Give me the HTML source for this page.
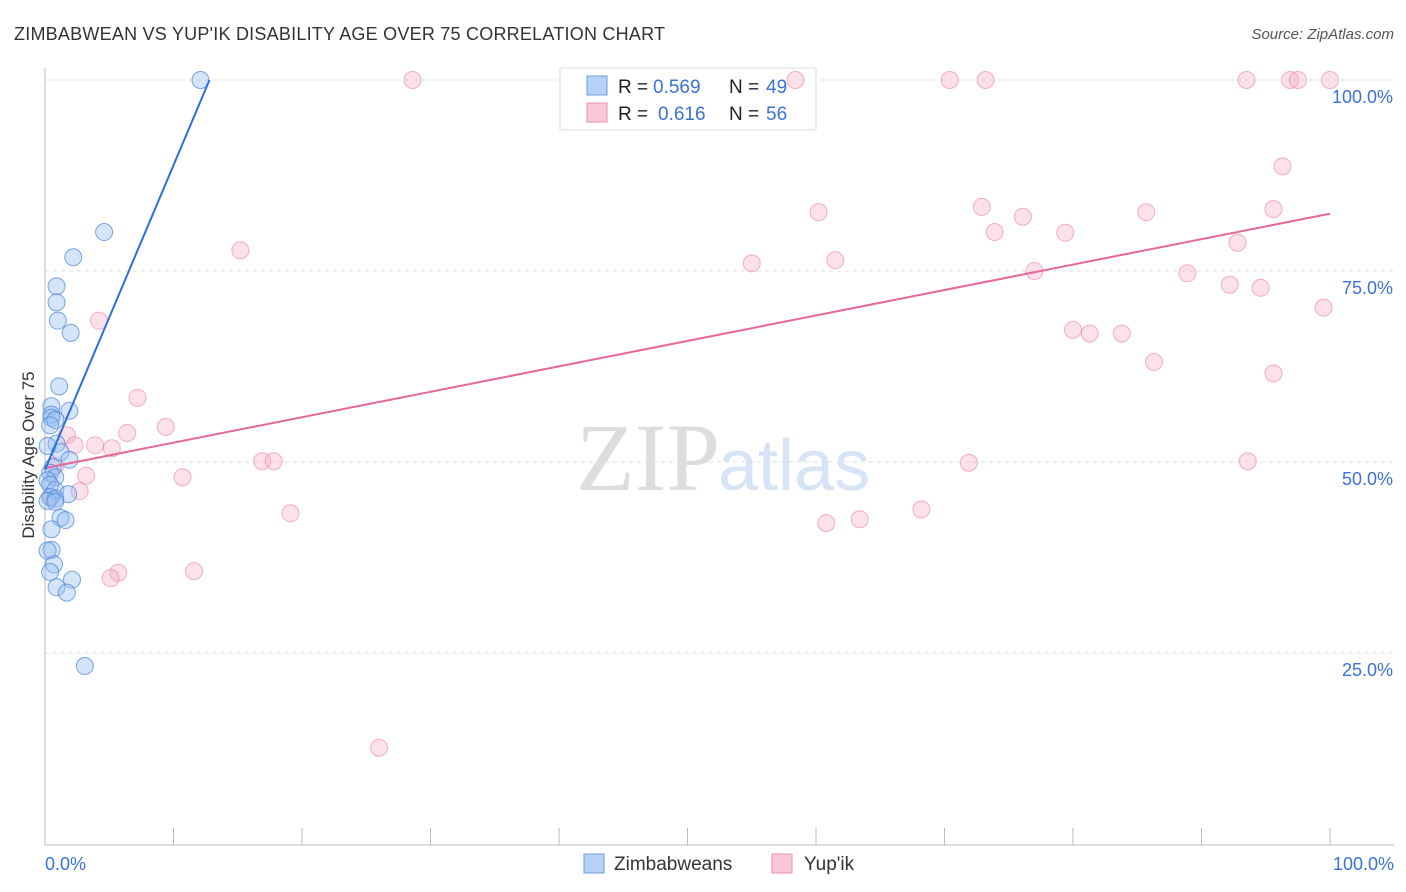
<!DOCTYPE html>
<html><head><meta charset="utf-8"><style>
body{margin:0;background:#fff;font-family:"Liberation Sans",sans-serif}
svg{display:block}
</style></head><body>
<svg id="c" width="1406" height="892">
<text x="14" y="40" font-size="18" fill="#333" textLength="651">ZIMBABWEAN VS YUP'IK DISABILITY AGE OVER 75 CORRELATION CHART</text>
<text x="1394" y="39" font-size="15" fill="#555" font-style="italic" text-anchor="end">Source: ZipAtlas.com</text>
<text x="720" y="490" font-size="96" fill="#ddd" text-anchor="end" font-family="Liberation Serif">ZIP</text>
<text x="718" y="490" font-size="72" fill="#d6e4f5">atlas</text>
<text x="34" y="455" font-size="17" fill="#333" text-anchor="middle" transform="rotate(-90 34 455)">Disability Age Over 75</text>
<g id="grid"></g>
<g>
<rect x="560" y="68" width="256" height="62" fill="#fff" stroke="#ddd"/>
<rect x="587" y="76" width="20" height="19" fill="#b6d2f5" stroke="#6d9fe0"/>
<rect x="587" y="103" width="20" height="19" fill="#f9c7d6" stroke="#eb8fab"/>
<text x="618" y="93" font-size="19" fill="#222">R =</text>
<text x="653" y="93" font-size="19" fill="#3a72d8">0.569</text>
<text x="729" y="93" font-size="19" fill="#222">N =</text>
<text x="766" y="93" font-size="19" fill="#3a72d8">49</text>
<text x="618" y="120" font-size="19" fill="#222">R =</text>
<text x="658" y="120" font-size="19" fill="#3a72d8">0.616</text>
<text x="729" y="120" font-size="19" fill="#222">N =</text>
<text x="766" y="120" font-size="19" fill="#3a72d8">56</text>
</g>
<g id="pts"></g><g id="lines"></g>
<g>
<rect x="584" y="854" width="20" height="19" fill="#b6d2f5" stroke="#6d9fe0"/>
<text x="614" y="870" font-size="19" fill="#333">Zimbabweans</text>
<rect x="772" y="854" width="20" height="19" fill="#f9c7d6" stroke="#eb8fab"/>
<text x="804" y="870" font-size="19" fill="#333">Yup'ik</text>
</g>
<text x="45" y="870" font-size="18" fill="#3a72d8">0.0%</text>
<text x="1394" y="870" font-size="18" fill="#3a72d8" text-anchor="end">100.0%</text>
</svg>
<script>
const yTicks=[100,75,50,25];
const yTickLabels=["100.0%","75.0%","50.0%","25.0%"];
const blueX=[12.1,4.6,2.2,0.9,0.9,1.0,2.0,1.1,0.5,1.9,0.5,0.5,0.8,0.4,0.9,0.2,1.2,1.9,0.6,0.4,0.8,0.2,0.4,0.8,1.8,0.4,0.8,0.2,0.8,1.2,1.6,0.5,0.5,0.2,0.7,0.4,2.1,0.9,1.7,3.1];
const blueY=[100,80.1,76.8,73.0,70.9,68.5,66.9,59.9,57.3,56.7,56.2,55.8,55.5,54.8,52.4,52.1,51.3,50.3,49.3,48.6,48.0,47.6,47.0,46.3,45.8,45.4,45.2,44.9,44.8,42.7,42.4,41.2,38.5,38.4,36.6,35.6,34.6,33.6,32.9,23.3];
const pinkX=[28.6,58.4,70.4,73.2,93.5,96.9,97.5,100,96.3,60.2,72.9,85.7,95.6,76.1,73.9,79.4,92.8,15.2,55.0,61.5,77.0,88.9,92.2,94.6,99.5,4.2,80.0,81.3,83.8,86.3,95.6,7.2,9.4,6.4,1.7,3.9,2.3,5.2,16.9,17.8,71.9,93.6,0.8,3.2,10.7,2.7,0.5,19.1,68.2,63.4,60.8,11.6,5.7,5.1,26.0];
const pinkY=[100,100,100,100,100,100,100,100,88.7,82.7,83.4,82.7,83.1,82.1,80.1,80.0,78.7,77.7,76.0,76.4,75.0,74.7,73.2,72.8,70.2,68.5,67.3,66.8,66.8,63.1,61.6,58.4,54.6,53.8,53.5,52.2,52.2,51.8,50.1,50.1,49.9,50.1,49.5,48.2,48.0,46.2,45.4,43.3,43.8,42.5,42.0,35.7,35.5,34.8,12.6];
const blueLine=[[0,49],[12.8,100]];
const pinkLine=[[0,49.2],[100,82.5]];
const X=v=>45+v*12.85, Y=v=>844-v*7.64;
const NS="http://www.w3.org/2000/svg";
function mk(t,a,p){const e=document.createElementNS(NS,t);for(const k in a)e.setAttribute(k,a[k]);p.appendChild(e);return e;}
const g=document.getElementById('grid');
let ax=mk('line',{x1:45,y1:68,x2:45,y2:845,stroke:'#bbb'},g);


let bx=mk('line',{x1:45,y1:845,x2:1394,y2:845,stroke:'#bbb'},g);


for(let i=1;i<=10;i++){let t=mk('line',{x1:45+i*128.5,y1:828,x2:45+i*128.5,y2:845,stroke:'#bbb'},g);

}
yTicks.forEach((v,i)=>{let l=mk('line',{x1:45,y1:Y(v),x2:1394,y2:Y(v),stroke:'#ddd','stroke-dasharray':'4,4'},g);


let t=mk('text',{x:1393,y:Y(v)+23,'font-size':18,fill:'#3a72d8','text-anchor':'end'},g);t.textContent=yTickLabels[i];

});
const p=document.getElementById('pts');
pinkX.forEach((v,i)=>{let c=mk('circle',{cx:X(v),cy:Y(pinkY[i]),r:8.5,fill:'rgba(246,170,195,0.35)',stroke:'rgba(232,130,162,0.6)','stroke-width':1},p);

});
blueX.forEach((v,i)=>{let c=mk('circle',{cx:X(v),cy:Y(blueY[i]),r:8.5,fill:'rgba(150,190,240,0.4)',stroke:'rgba(70,130,220,0.7)','stroke-width':1},p);

});
const L=document.getElementById('lines');
let pl=mk('line',{x1:X(pinkLine[0][0]),y1:Y(pinkLine[0][1]),x2:X(pinkLine[1][0]),y2:Y(pinkLine[1][1]),stroke:'#e8669a','stroke-width':2},L);


let bl=mk('line',{x1:X(blueLine[0][0]),y1:Y(blueLine[0][1]),x2:X(blueLine[1][0]),y2:Y(blueLine[1][1]),stroke:'#2a6fdc','stroke-width':2},L);


</script>
</body></html>
